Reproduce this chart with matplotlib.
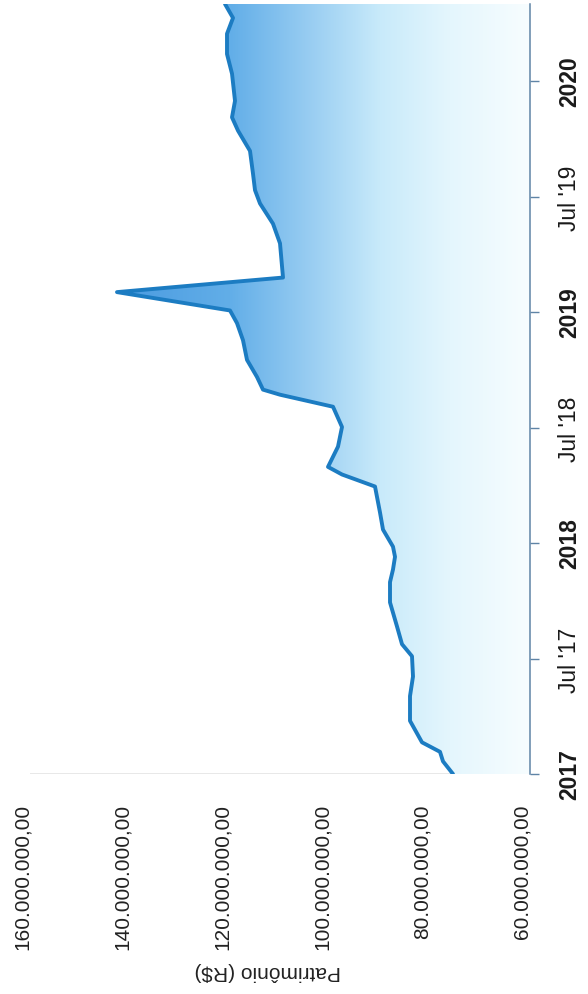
"""Patrimônio (R$) area chart, drawn the way the scanned page shows it (rotated a quarter turn)."""
import numpy as np
import pandas as pd
import matplotlib
matplotlib.use("Agg")
import matplotlib.pyplot as plt
import matplotlib.dates as mdates
from matplotlib.colors import LinearSegmentedColormap
from matplotlib.transforms import ScaledTranslation

plt.rcParams.update({"font.family": ["Liberation Sans", "DejaVu Sans"]})

# data (values in millions of R$)
datas = ["2017-01-01", "2017-01-21", "2017-02-05", "2017-02-20", "2017-03-26", "2017-05-04",
         "2017-06-04", "2017-07-06", "2017-07-25", "2017-08-22", "2017-09-29", "2017-10-31",
         "2017-11-20", "2017-12-10", "2017-12-26", "2018-01-22", "2018-02-18", "2018-03-31",
         "2018-04-19", "2018-05-01", "2018-06-02", "2018-07-03", "2018-08-04", "2018-08-23",
         "2018-08-31", "2018-09-20", "2018-10-17", "2018-11-17", "2018-12-14", "2019-01-03",
         "2019-02-01", "2019-02-24", "2019-04-19", "2019-05-20", "2019-06-21", "2019-07-12",
         "2019-08-07", "2019-09-12", "2019-10-14", "2019-11-04", "2019-11-30", "2020-01-12",
         "2020-02-12", "2020-03-15", "2020-04-09", "2020-05-01"]
patrimonio_mi = [75.4, 77.4, 78.0, 81.6, 84.0, 84.0,
                 83.4, 83.6, 85.6, 86.6, 88.0, 88.0,
                 87.4, 87.0, 87.4, 89.4, 90.0, 91.0,
                 97.6, 100.4, 98.4, 97.6, 99.4, 110.0,
                 113.4, 114.6, 116.6, 117.4, 118.6, 120.0,
                 142.6, 109.4, 110.0, 111.4, 114.0, 115.0,
                 115.4, 116.0, 118.4, 119.6, 119.0, 119.6,
                 120.6, 120.6, 119.4, 121.0]

tick_datas = ["2017-01-01", "2017-07-01", "2018-01-01", "2018-07-01",
              "2019-01-01", "2019-07-01", "2020-01-01"]
tick_rotulos = ["2017", "Jul '17", "2018", "Jul '18", "2019", "Jul '19", "2020"]
valor_ticks = [60, 80, 100, 120, 140, 160]

LINE = "#1c7cc2"
AXIS = "#5f84a6"

t = mdates.date2num(pd.to_datetime(datas))
v = np.array(patrimonio_mi)

W, H = 588, 995
fig = plt.figure(figsize=(W / 100, H / 100), dpi=100)
ax = fig.add_axes([30 / W, 1 - 775 / H, 500 / W, 770 / H])
ax.set_xlim(160, 60)
ax.set_ylim(mdates.date2num(pd.Timestamp("2017-01-01")), mdates.date2num(pd.Timestamp("2020-05-01")))

# gradient fill under the curve (dark at high values, fading to near white at 60M)
poly = ax.fill_betweenx(t, v, 60, facecolor="none", edgecolor="none")
cmap = LinearSegmentedColormap.from_list(
    "pat", [(0.0, "#3d8fd9"), (0.2, "#4d9de1"), (0.4, "#62aee8"), (0.55, "#95cbf1"),
            (0.7, "#c8eafa"), (0.84, "#e4f6fd"), (1.0, "#f7fdff")])
grad = np.linspace(0, 1, 256).reshape(1, -1)
y0, y1 = ax.get_ylim()
img = ax.imshow(grad, cmap=cmap, aspect="auto", extent=(160, 60, y0, y1),
                origin="lower", zorder=1, interpolation="bilinear")
img.set_clip_path(poly.get_paths()[0], transform=ax.transData)
ax.set_xlim(160, 60)
ax.set_ylim(y0, y1)

ax.plot(v, t, color=LINE, lw=2.8, solid_joinstyle="round", solid_capstyle="round", zorder=3)
ax.plot([160, v[0]], [t[0], t[0]], color="#e4e4e4", lw=1.2, zorder=2)

for s in ("left", "top", "bottom"):
    ax.spines[s].set_visible(False)
ax.spines["right"].set_color(AXIS)
ax.spines["right"].set_linewidth(1.1)

# date axis on the right, labels turned
ax.yaxis.tick_right()
ax.set_yticks(mdates.date2num(pd.to_datetime(tick_datas)))
ax.set_yticklabels(tick_rotulos, rotation=90, va="center", fontsize=16.5, color="#1a1a1a")
ax.tick_params(axis="y", direction="out", length=6.5, width=1, color=AXIS, pad=14)
for lab in ax.get_yticklabels():
    if "Jul" not in lab.get_text():
        lab.set_fontweight("bold")

# value axis at the bottom
def fmt_brl(x):
    s = f"{x * 1e6:,.2f}"
    return s.replace(",", "#").replace(".", ",").replace("#", ".")

ax.set_xticks(valor_ticks)
ax.set_xticklabels([fmt_brl(x) for x in valor_ticks], rotation=90, fontsize=15, color="#222222")
ax.tick_params(axis="x", length=0, pad=21)
shift = ScaledTranslation(-8 / 100, 0, fig.dpi_scale_trans)
for lab in ax.get_xticklabels():
    lab.set_transform(lab.get_transform() + shift)

fig.text(268 / W, 1 - 972 / H, "Patrimônio (R$)", rotation=180, ha="center", va="center",
         fontsize=15, color="#222222")

fig.savefig("out.png", dpi=100)
